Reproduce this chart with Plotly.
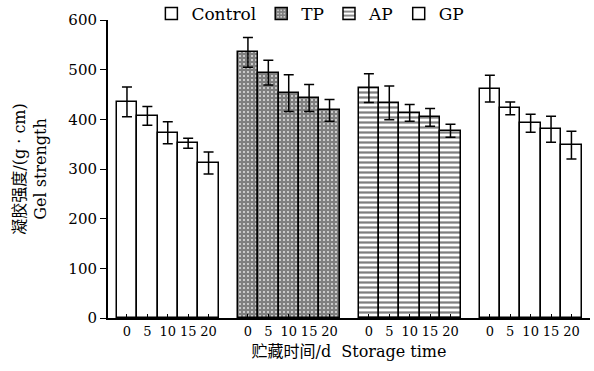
import plotly.graph_objects as go

groups = ["Control", "TP", "AP", "GP"]
days = ["0", "5", "10", "15", "20"]
means = {
    "Control": [435, 407, 373, 352, 312],
    "TP": [535, 494, 453, 443, 418],
    "AP": [463, 433, 413, 404, 377],
    "GP": [462, 422, 392, 380, 348],
}
errs = {
    "Control": [30, 19, 22, 10, 22],
    "TP": [30, 25, 37, 27, 22],
    "AP": [29, 34, 17, 18, 13],
    "GP": [27, 13, 18, 26, 28],
}
patterns = {
    "Control": dict(shape=""),
    "TP": dict(shape="+", size=4, solidity=0.85, fgcolor="black", bgcolor="white", fillmode="overlay"),
    "AP": dict(shape="-", size=5, solidity=0.45, fgcolor="black", bgcolor="white", fillmode="overlay"),
    "GP": dict(shape=""),
}

GROUP_STEP = 5.93
serif = "DejaVu Serif, Liberation Serif, serif"
cjk = "DejaVu Serif, Noto Sans CJK SC, serif"

fig = go.Figure()
tickvals, ticktext = [], []
for gi, g in enumerate(groups):
    xs = [gi * GROUP_STEP + i for i in range(len(days))]
    tickvals += xs
    ticktext += days
    fig.add_trace(go.Bar(
        x=xs, y=means[g], name=g, width=1,
        marker=dict(color="white", line=dict(color="black", width=1.5), pattern=patterns[g]),
        error_y=dict(type="data", array=errs[g], color="black", thickness=1.5, width=5),
    ))

fig.update_layout(
    width=594, height=371,
    margin=dict(l=108, r=4, t=20, b=53, autoexpand=False),
    paper_bgcolor="white", plot_bgcolor="white",
    font=dict(family=serif, color="black", size=15),
    showlegend=True,
    legend=dict(orientation="h", x=0.09, xanchor="left", y=1.02, yanchor="middle",
                font=dict(size=17, family=serif), itemwidth=30, bgcolor="rgba(0,0,0,0)",
                traceorder="normal"),
    bargap=0,
)
fig.update_xaxes(
    range=[-0.93, 22.7], tickvals=tickvals, ticktext=ticktext,
    showline=True, linecolor="black", linewidth=2, ticks="inside", ticklen=4,
    tickcolor="black", tickfont=dict(size=13, family=serif), showgrid=False, zeroline=False,
    title=dict(text="贮藏时间/d  Storage time", font=dict(size=16, family=cjk), standoff=8),
)
fig.update_yaxes(
    range=[0, 600], tickvals=[0, 100, 200, 300, 400, 500, 600],
    showline=True, linecolor="black", linewidth=2, ticks="outside", ticklen=6,
    tickcolor="black", tickfont=dict(size=15, family=serif), showgrid=False, zeroline=False,
    title=dict(text="凝胶强度/(g · cm)<br>Gel strength", font=dict(size=16, family=cjk), standoff=18),
)
fig.write_html("out.html")
